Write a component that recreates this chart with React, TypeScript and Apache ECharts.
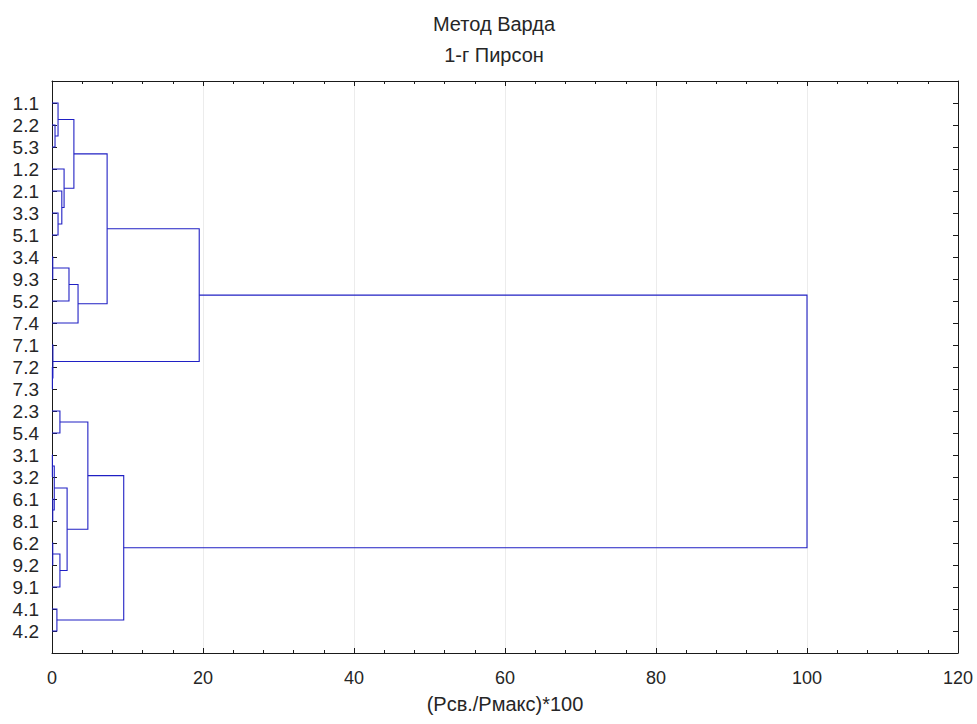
import React, { useEffect, useRef } from "react";
import * as echarts from "echarts";

// Leaf order (top to bottom)
const leaves = [
  "1.1", "2.2", "5.3", "1.2", "2.1", "3.3", "5.1", "3.4", "9.3", "5.2", "7.4",
  "7.1", "7.2", "7.3", "2.3", "5.4", "3.1", "3.2", "6.1", "8.1", "6.2", "9.2",
  "9.1", "4.1", "4.2",
];

// Linkage: "#k" refers to merge k
const linkLeft = [
  "2.2", "1.1", "3.3", "2.1", "1.2", "#1", "3.4", "#6", "#7", "#5", "7.2", "7.1",
  "#9", "2.3", "3.1", "6.1", "#14", "6.2", "#17", "#16", "#13", "4.1", "#20", "#12",
];
const linkRight = [
  "5.3", "#0", "5.1", "#2", "#3", "#4", "9.3", "5.2", "7.4", "#8", "7.3", "#10",
  "#11", "5.4", "3.2", "8.1", "#15", "9.2", "9.1", "#18", "#19", "4.2", "#21", "#22",
];
const linkHeight = [
  0.4, 0.8, 0.8, 1.3, 1.6, 2.9, 0.1, 2.25, 3.45, 7.3, 0.05, 0.12,
  19.5, 1.05, 0.05, 0.1, 0.3, 0.1, 1.05, 2.0, 4.75, 0.65, 9.5, 100,
];

const xTicks = { min: 0, max: 120, interval: 20, minorInterval: 4 };
const titleLines = ["Метод Варда", "1-г Пирсон"];
const xName = "(Рсв./Рмакс)*100";

const FONT = "Liberation Sans, Arial, sans-serif";
const LINE_COLOR = "#2020c4";
const AXIS_COLOR = "#1a1a1a";
const TEXT_COLOR = "#262626";

function buildLinks() {
  const cache: Record<string, { x: number; y: number }> = {};
  const pos = (ref: string): { x: number; y: number } => {
    if (cache[ref]) return cache[ref];
    let p;
    if (ref.startsWith("#")) {
      const k = parseInt(ref.slice(1), 10);
      const a = pos(linkLeft[k]);
      const b = pos(linkRight[k]);
      p = { x: linkHeight[k], y: (a.y + b.y) / 2 };
    } else {
      p = { x: 0, y: leaves.indexOf(ref) + 1 };
    }
    cache[ref] = p;
    return p;
  };
  return linkHeight.map((h, k) => {
    const a = pos(linkLeft[k]);
    const b = pos(linkRight[k]);
    return {
      coords: [
        [a.x, a.y],
        [h, a.y],
        [h, b.y],
        [b.x, b.y],
      ],
    };
  });
}

export default function App() {
  const ref = useRef<HTMLDivElement>(null);
  useEffect(() => {
    if (!ref.current) return;
    const chart = echarts.init(ref.current, null, { renderer: "svg" });
    const baseX = {
      type: "value",
      min: xTicks.min,
      max: xTicks.max,
      interval: xTicks.interval,
      axisLine: { show: true, onZero: false, lineStyle: { color: AXIS_COLOR, width: 1 } },
      axisTick: { show: true, inside: true, length: 5, lineStyle: { color: AXIS_COLOR } },
    };
    const minorX = {
      type: "value",
      min: xTicks.min,
      max: xTicks.max,
      interval: xTicks.minorInterval,
      axisLine: { show: false, onZero: false },
      axisTick: { show: true, inside: true, length: 3, lineStyle: { color: AXIS_COLOR } },
      axisLabel: { show: false },
      splitLine: { show: false },
    };
    const baseY = {
      type: "value",
      min: 0,
      max: leaves.length + 1,
      interval: 1,
      inverse: true,
      axisLine: { show: true, onZero: false, lineStyle: { color: AXIS_COLOR, width: 1 } },
      axisTick: { show: true, inside: true, length: 5, lineStyle: { color: AXIS_COLOR } },
      splitLine: { show: false },
    };
    chart.setOption({
      animation: false,
      backgroundColor: "#ffffff",
      textStyle: { fontFamily: FONT },
      grid: { left: 52, right: 19, top: 81, bottom: 71 },
      graphic: titleLines.map((t, i) => ({
        type: "text",
        x: 494,
        y: 24 + i * 31,
        style: {
          text: t,
          fontSize: 20,
          fontFamily: FONT,
          fill: TEXT_COLOR,
          textAlign: "center",
          textVerticalAlign: "middle",
        },
      })),
      xAxis: [
        {
          ...baseX,
          position: "bottom",
          axisLabel: { fontSize: 18, color: TEXT_COLOR, margin: 16, fontFamily: FONT },
          splitLine: { show: true, lineStyle: { color: "#ececec", width: 1 } },
          name: xName,
          nameLocation: "middle",
          nameGap: 41,
          nameTextStyle: { fontSize: 20, color: TEXT_COLOR, fontFamily: FONT },
        },
        {
          ...baseX,
          position: "top",
          axisLabel: { show: false },
          splitLine: { show: false },
        },
        { ...minorX, position: "bottom" },
        { ...minorX, position: "top" },
      ],
      yAxis: [
        {
          ...baseY,
          position: "left",
          axisLabel: {
            fontSize: 19,
            color: TEXT_COLOR,
            margin: 13,
            fontFamily: FONT,
            formatter: (v: number) =>
              v >= 1 && v <= leaves.length && Number.isInteger(v) ? leaves[v - 1] : "",
          },
        },
        {
          ...baseY,
          position: "right",
          axisLabel: { show: false },
        },
      ],
      series: [
        {
          type: "lines",
          coordinateSystem: "cartesian2d",
          xAxisIndex: 0,
          yAxisIndex: 0,
          polyline: true,
          silent: true,
          lineStyle: { color: LINE_COLOR, width: 1.1, opacity: 1 },
          data: buildLinks(),
        },
      ],
    });
    return () => chart.dispose();
  }, []);
  return (
    <div
      ref={ref}
      style={{ position: "fixed", left: 0, top: 0, width: 977, height: 724, background: "#fff" }}
    />
  );
}
